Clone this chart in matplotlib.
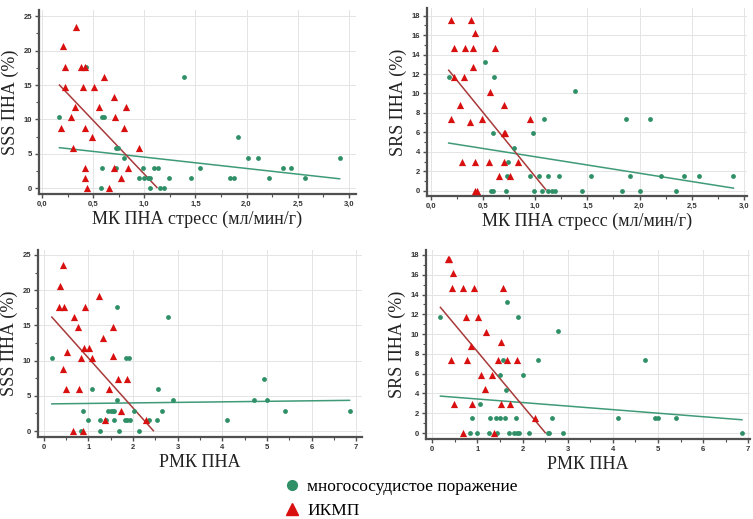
import numpy as np
import matplotlib
matplotlib.use('Agg')
from matplotlib import pyplot as plt
from matplotlib.ticker import MultipleLocator, FuncFormatter
from matplotlib.lines import Line2D

# --- data ---
# panel 1: SSS vs MK stress
mk_ikmp = [0.33, 0.20, 0.22, 0.38, 0.42, 0.22, 0.40, 0.51, 0.61, 0.32, 0.56, 0.82, 0.70, 0.28,
           0.71, 0.19, 0.42, 0.80, 0.49, 0.30, 0.95, 0.42, 0.70, 0.84, 0.42, 0.77, 0.44, 0.65]
sss_mk_ikmp = [23.5, 20.6, 17.6, 17.6, 17.6, 14.7, 14.7, 14.7, 16.2, 11.8, 11.8, 11.8, 13.2, 10.3,
               10.3, 8.8, 8.8, 8.8, 7.4, 5.9, 5.9, 2.9, 2.9, 2.9, 1.5, 1.5, 0.0, 0.0]
mk_multi = [0.17, 0.43, 1.39, 0.59, 0.61, 0.72, 0.74, 0.80, 0.59, 0.72, 0.99, 1.09, 1.13, 1.54,
            0.95, 1.00, 1.04, 1.06, 1.24, 1.46, 1.84, 1.88, 2.22, 2.57, 0.58, 1.06, 1.15, 1.19,
            1.92, 2.01, 2.11, 2.36, 2.43, 2.91]
sss_mk_multi = [10.3, 17.6, 16.2, 10.3, 10.3, 5.9, 5.9, 4.4, 2.9, 2.9, 2.9, 2.9, 2.9, 2.9,
                1.5, 1.5, 1.5, 1.5, 1.5, 1.5, 1.5, 1.5, 1.5, 1.5, 0.0, 0.0, 0.0, 0.0,
                7.4, 4.4, 4.4, 2.9, 2.9, 4.4]

# panel 2: SRS vs MK stress
mk2_ikmp = [0.19, 0.38, 0.42, 0.22, 0.33, 0.40, 0.61, 0.40, 0.22, 0.32, 0.57, 0.28, 0.70, 0.19,
            0.37, 0.49, 0.95, 0.70, 0.71, 0.30, 0.42, 0.56, 0.70, 0.83, 0.65, 0.76, 0.42, 0.44]
srs_mk_ikmp = [17.6, 17.6, 16.2, 14.7, 14.7, 14.7, 14.7, 12.7, 11.7, 11.7, 10.2, 8.8, 8.8, 7.4,
               7.1, 7.4, 7.4, 5.9, 5.9, 2.9, 2.9, 2.9, 2.9, 2.9, 1.5, 1.5, 0.0, 0.0]
mk2_multi = [0.17, 0.52, 0.60, 1.38, 1.08, 1.87, 2.10, 0.59, 0.98, 0.80, 0.74, 0.73, 0.95, 1.04,
             1.12, 1.23, 1.53, 1.91, 2.21, 2.43, 2.57, 2.90, 0.58, 0.59, 0.72, 0.99, 1.06, 1.12,
             1.16, 1.19, 1.45, 1.83, 2.00, 2.35]
srs_mk_multi = [11.7, 13.2, 11.7, 10.3, 7.4, 7.4, 7.4, 5.9, 5.9, 4.4, 2.9, 1.5, 1.5, 1.5,
                1.5, 1.5, 1.5, 1.5, 1.5, 1.5, 1.5, 1.5, 0.0, 0.0, 0.0, 0.0, 0.0, 0.0,
                0.0, 0.0, 0.0, 0.0, 0.0, 0.0]

# panel 3: SSS vs PMK
pmk_ikmp = [0.43, 0.37, 0.34, 0.46, 0.92, 1.23, 0.68, 0.76, 1.56, 1.32, 0.51, 0.90, 1.01, 0.84,
            1.08, 1.56, 0.43, 1.66, 1.86, 0.49, 0.78, 1.46, 1.73, 1.38, 2.28, 0.66, 0.87]
sss_pmk_ikmp = [23.5, 20.6, 17.6, 17.6, 17.6, 19.1, 16.2, 14.7, 14.7, 13.2, 11.2, 11.8, 11.8, 10.3,
                10.3, 10.7, 8.8, 7.4, 7.4, 5.9, 5.9, 5.9, 2.9, 1.5, 1.5, 0.0, 0.0]
pmk_multi = [0.18, 1.63, 2.78, 1.85, 1.90, 1.07, 2.57, 1.65, 2.90, 4.71, 5.01, 4.93, 0.88, 1.44,
             1.51, 1.55, 1.58, 2.01, 2.65, 5.40, 6.85, 0.99, 1.27, 1.40, 1.58, 1.81, 1.87, 1.93,
             2.35, 2.54, 4.10, 0.84, 1.26, 1.68, 2.14]
sss_pmk_multi = [10.3, 17.6, 16.2, 10.3, 10.3, 5.9, 5.9, 4.4, 4.4, 4.4, 4.4, 7.4, 2.9, 2.9,
                 2.9, 2.9, 2.9, 2.9, 2.9, 2.9, 2.9, 1.5, 1.5, 1.5, 1.5, 1.5, 1.5, 1.5,
                 1.5, 1.5, 1.5, 0.0, 0.0, 0.0, 0.0]

# panel 4: SRS vs PMK
pmk2_ikmp = [0.34, 0.38, 0.45, 0.43, 0.67, 0.92, 1.56, 0.75, 1.01, 1.19, 1.53, 0.85, 0.42, 0.77,
             1.46, 1.66, 1.87, 1.08, 1.32, 1.17, 0.49, 0.89, 1.53, 1.73, 2.28, 0.67, 1.37]
srs_pmk_ikmp = [17.6, 17.6, 16.2, 14.7, 14.7, 14.7, 14.7, 11.7, 11.7, 10.2, 9.2, 8.8, 7.4, 7.4,
                7.4, 7.4, 7.4, 5.9, 5.9, 4.5, 2.9, 2.9, 2.9, 2.9, 1.5, 0.0, 0.0]
pmk2_multi = [0.18, 1.65, 1.90, 2.79, 1.56, 2.35, 4.71, 1.51, 2.01, 1.63, 1.06, 0.87, 1.27, 1.41,
              1.51, 1.60, 1.86, 2.65, 4.11, 4.93, 5.01, 5.41, 0.83, 0.98, 1.26, 1.44, 1.69, 1.80,
              1.87, 1.93, 2.14, 2.57, 2.59, 2.90, 6.86]
srs_pmk_multi = [11.7, 13.2, 11.7, 10.3, 7.4, 7.4, 7.4, 5.9, 5.9, 4.4, 2.9, 1.5, 1.5, 1.5,
                 1.5, 1.5, 1.5, 1.5, 1.5, 1.5, 1.5, 1.5, 0.0, 0.0, 0.0, 0.0, 0.0, 0.0,
                 0.0, 0.0, 0.0, 0.0, 0.0, 0.0, 0.0]

# regression lines as shown in the figure: (intercept, slope)
fit_sss_mk = {'multi': (6.18, -1.65), 'ikmp': (17.65, -15.6)}
fit_srs_mk = {'multi': (5.19, -1.70), 'ikmp': (14.64, -13.2)}
fit_sss_pmk = {'multi': (3.84, 0.075), 'ikmp': (17.45, -7.09)}
fit_srs_pmk = {'multi': (3.80, -0.358), 'ikmp': (13.68, -5.45)}

legend_labels = ['многососудистое поражение', 'ИКМП']

GREEN = '#2f8f67'
RED = '#d81010'
RED_LINE = '#a83a3a'
GREEN_LINE = '#3f9a78'
SPINE = '#505050'
W, H = 753, 519

plt.rcParams['font.family'] = ['Liberation Serif', 'DejaVu Serif']
fig = plt.figure(figsize=(W / 100, H / 100), dpi=100)


def px_axes(left, top, right, bottom):
    return fig.add_axes([left / W, 1 - bottom / H, (right - left) / W, (bottom - top) / H])


def fit_line(ax, coef, xmin, xmax, color):
    b, k = coef
    xs = np.linspace(xmin, xmax, 300)
    ys = k * xs + b
    keep = ys >= 0
    ax.plot(xs[keep], ys[keep], color=color, linewidth=1.1, zorder=2)


def panel(box, x_multi, y_multi, x_ikmp, y_ikmp, fits, xlim, ylim, xmaj, ymaj, comma,
          xlabel, ylabel):
    ax = px_axes(*box)
    ax.scatter(x_multi, y_multi, s=12, color=GREEN, zorder=3, linewidths=0)
    ax.scatter(x_ikmp, y_ikmp, s=27, marker='^', color=RED, zorder=4, linewidths=0)
    lo = min(min(x_multi), min(x_ikmp))
    hi = max(max(x_multi), max(x_ikmp))
    fit_line(ax, fits['multi'], lo, hi, GREEN_LINE)
    fit_line(ax, fits['ikmp'], lo, hi, RED_LINE)
    ax.set_xlim(*xlim)
    ax.set_ylim(*ylim)
    ax.xaxis.set_major_locator(MultipleLocator(xmaj))
    ax.xaxis.set_minor_locator(MultipleLocator(xmaj / 2))
    ax.yaxis.set_major_locator(MultipleLocator(ymaj))
    ax.yaxis.set_minor_locator(MultipleLocator(ymaj / 2))
    if comma:
        ax.xaxis.set_major_formatter(FuncFormatter(lambda v, p: f"{v:.1f}".replace('.', ',')))
    ax.grid(True, which='major', color='#e4e4e4', linewidth=0.7, zorder=0)
    ax.set_axisbelow(True)
    for s in ['top', 'right']:
        ax.spines[s].set_visible(False)
    for s in ['left', 'bottom']:
        ax.spines[s].set_color(SPINE)
        ax.spines[s].set_linewidth(1.6)
    ax.tick_params(which='major', length=3, width=1, color=SPINE, labelsize=5.5, pad=2,
                   labelcolor='#333333')
    ax.tick_params(which='minor', length=2, width=0.8, color=SPINE)
    for t in ax.get_xticklabels() + ax.get_yticklabels():
        t.set_fontfamily('Liberation Sans')
        t.set_fontweight('bold')
    ax.set_xlabel(xlabel, fontsize=13, labelpad=2, color='#222222')
    ax.set_ylabel(ylabel, fontsize=13, labelpad=3, color='#222222')
    return ax


panel((39, 10, 356, 194), mk_multi, sss_mk_multi, mk_ikmp, sss_mk_ikmp, fit_sss_mk,
      (-0.03, 3.07), (-0.83, 25.9), 0.5, 5, True,
      'МК ПНА стресс (мл/мин/г)', 'SSS ПНА (%)')
panel((427, 8, 747, 196), mk2_multi, srs_mk_multi, mk2_ikmp, srs_mk_ikmp, fit_srs_mk,
      (-0.038, 3.03), (-0.55, 18.8), 0.5, 2, True,
      'МК ПНА стресс (мл/мин/г)', 'SRS ПНА (%)')
panel((38, 250, 362, 437), pmk_multi, sss_pmk_multi, pmk_ikmp, sss_pmk_ikmp, fit_sss_pmk,
      (-0.13, 7.13), (-0.85, 25.7), 1, 5, False,
      'РМК ПНА', 'SSS ПНА (%)')
panel((426, 250, 750, 439), pmk2_multi, srs_pmk_multi, pmk2_ikmp, srs_pmk_ikmp, fit_srs_pmk,
      (-0.14, 7.04), (-0.6, 18.5), 1, 2, False,
      'РМК ПНА', 'SRS ПНА (%)')

handles = [Line2D([], [], linestyle='none', marker='o', markersize=7, color=GREEN),
           Line2D([], [], linestyle='none', marker='^', markersize=9, color=RED)]
fig.legend(handles, legend_labels, loc='upper left', bbox_to_anchor=(282 / W, 1 - 479 / H),
           frameon=False, fontsize=12.5, handletextpad=0.25, labelspacing=0.45,
           handlelength=1.2, borderaxespad=0, borderpad=0)

fig.savefig('out.png', dpi=100)
